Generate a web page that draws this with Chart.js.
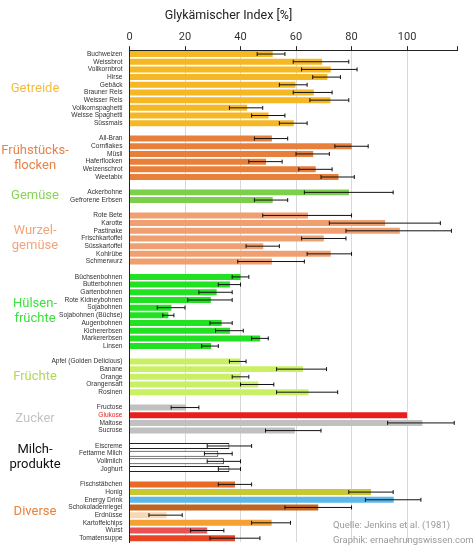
<!DOCTYPE html>
<html><head><meta charset="utf-8">
<script src="https://cdn.jsdelivr.net/npm/chart.js@4"></script>
<style>html,body{margin:0;padding:0;background:#fff}#w{width:474px;height:550px;position:relative}</style>
</head><body><div id="w"><canvas id="c"></canvas></div>
<script>
const groups = ["Getreide","Frühstücks-\nflocken","Gemüse","Wurzel-\ngemüse","Hülsen-\nfrüchte","Früchte","Zucker","Milch-\nprodukte","Diverse"];
const groupColors = ["#f2bd3c","#e8824a","#8ad35a","#f2a47a","#3ee03e","#b4d850","#c4c4c4","#111111","#e8823c"];
const items = [
 ["Buchweizen","Weissbrot","Vollkornbrot","Hirse","Gebäck","Brauner Reis","Weisser Reis","Vollkornspaghetti","Weisse Spaghetti","Süssmais"],
 ["All-Bran","Cornflakes","Müsli","Haferflocken","Weizenschrot","Weetabix"],
 ["Ackerbohne","Gefrorene Erbsen"],
 ["Rote Bete","Karotte","Pastinake","Frischkartoffel","Süsskartoffel","Kohlrübe","Schmerwurz"],
 ["Büchsenbohnen","Butterbohnen","Gartenbohnen","Rote Kidneybohnen","Sojabohnen","Sojabohnen (Büchse)","Augenbohnen","Kichererbsen","Markererbsen","Linsen"],
 ["Apfel (Golden Delicious)","Banane","Orange","Orangensaft","Rosinen"],
 ["Fructose","Glukose","Maltose","Sucrose"],
 ["Eiscreme","Fettarme Milch","Vollmilch","Joghurt"],
 ["Fischstäbchen","Honig","Energy Drink","Schokoladenriegel","Erdnüsse","Kartoffelchips","Wurst","Tomatensuppe"]
];
const values = [
 [51.6,69.4,72.5,71.3,59.8,66.4,72.4,42.4,50.1,59.2],
 [51.3,80.1,66.2,49.2,67.1,75.3],
 [79.1,51.6],
 [64.3,92.1,97.4,70,48.2,72.5,51.3],
 [40,36.2,31.4,29.3,15.1,14,33.2,36.2,47.1,29.4],
 [39.8,62.5,40,46.4,64.5],
 [20.4,100,105.5,59.6],
 [36,32,34,36],
 [38,87,95.2,68,13.4,51.2,28,38]
];
const errLow = [
 [46,59,62,66,54,59,65,36,44,54],
 [45,74,60,43,61,69],
 [63,45],
 [48,72,78,62,42,64,39],
 [37,32,25,21,10,12,29,31,44,26],
 [36,53,37,40,53],
 [15,null,93,49],
 [28,27,28,32],
 [32,79,85,56,7,44,22,29]
];
const errHigh = [
 [56,79,82,76,64,73,79,48,56,64],
 [57,86,72,55,73,81],
 [95,57],
 [80,112,116,78,54,80,63],
 [43,40,37,37,20,16,37,41,50,32],
 [42,71,43,52,75],
 [25,null,117,69],
 [44,37,40,40],
 [44,95,105,80,19,58,34,47]
];
const itemColors = [
 null,null,null,null,null,null,null,null,
 ["#e86a24","#c8c832","#5cb8e8","#c0641e","#f8d8b4","#f5a030","#e85252","#e84422"]
];
const groupBarColors = ["#f5b824","#e8803c","#7ccf4a","#f0a070","#22e022","#c8f062","#c0c0c0","#ffffff",null];

const labels=[],data=[],lo=[],hi=[],bg=[],border=[],bw=[],lblColor=[],groupRange=[];
groups.forEach((g,gi)=>{
  if(gi>0){labels.push("");data.push(null);lo.push(null);hi.push(null);bg.push("#fff");border.push("#fff");bw.push(0);lblColor.push("#333");}
  const start=labels.length;
  items[gi].forEach((it,i)=>{
    labels.push(it);data.push(values[gi][i]);lo.push(errLow[gi][i]);hi.push(errHigh[gi][i]);
    let c = itemColors[gi]?itemColors[gi][i]:groupBarColors[gi];
    if(it==="Glukose") c="#e81e1e";
    bg.push(c);
    border.push(gi===7?"#222":c);bw.push(gi===7?1:0);
    lblColor.push(it==="Glukose"?"#e82020":"#333");
  });
  groupRange.push([start,labels.length-1]);
});

const deco={
  id:"deco",
  afterDatasetsDraw(chart){
    const {ctx,scales:{x,y}}=chart;
    ctx.save();
    ctx.strokeStyle="#111";ctx.lineWidth=1;
    lo.forEach((l,i)=>{
      if(l==null)return;
      const yy=y.getPixelForValue(i),x1=x.getPixelForValue(l),x2=x.getPixelForValue(hi[i]);
      ctx.beginPath();ctx.moveTo(x1,yy);ctx.lineTo(x2,yy);
      ctx.moveTo(x1,yy-2);ctx.lineTo(x1,yy+2);ctx.moveTo(x2,yy-2);ctx.lineTo(x2,yy+2);ctx.stroke();
    });
    ctx.font="13px Roboto";ctx.textAlign="center";ctx.textBaseline="middle";
    groups.forEach((g,gi)=>{
      const [a,b]=groupRange[gi];
      const yc=(y.getPixelForValue(a)+y.getPixelForValue(b))/2;
      const lines=g.split("\n");
      ctx.fillStyle=groupColors[gi];
      lines.forEach((t,k)=>ctx.fillText(t,35,yc+(k-(lines.length-1)/2)*15));
    });
    ctx.font="9.5px Roboto";ctx.textAlign="left";ctx.fillStyle="#999";
    ctx.fillText("Quelle: Jenkins et al. (1981)",333,526);
    ctx.fillText("Graphik: ernaehrungswissen.com",333,541);
    ctx.restore();
  }
};

new Chart(document.getElementById("c"),{
  type:"bar",
  data:{labels,datasets:[{data,backgroundColor:bg,borderColor:border,borderWidth:bw,barPercentage:0.78,categoryPercentage:1}]},
  options:{
    indexAxis:"y",responsive:true,maintainAspectRatio:false,animation:false,
    layout:{padding:{left:0,right:17,top:0,bottom:6}},
    plugins:{legend:{display:false},tooltip:{enabled:false},
      title:{display:true,text:"Glykämischer Index [%]",color:"#222",font:{family:"Roboto",size:12.5,weight:"normal"},padding:{top:8,bottom:6}}},
    scales:{
      x:{position:"top",min:0,max:118,
        ticks:{stepSize:20,color:"#333",font:{family:"Roboto",size:11},padding:2,callback:v=>v<=100?v:""},
        grid:{color:c=>(c.tick&&c.tick.value>0&&c.tick.value<=100)?"#d8d8d8":"rgba(0,0,0,0)",tickLength:4,tickColor:"#222"},
        border:{color:"#222",width:1}},
      y:{afterFit:s=>{s.width=129.5;},
        ticks:{autoSkip:false,color:lblColor,font:{family:"Liberation Sans",size:6.6},padding:4},
        grid:{display:false,drawTicks:true,tickLength:3},
        border:{color:"#222",width:1}}
    }
  },
  plugins:[deco]
});
</script></body></html>
